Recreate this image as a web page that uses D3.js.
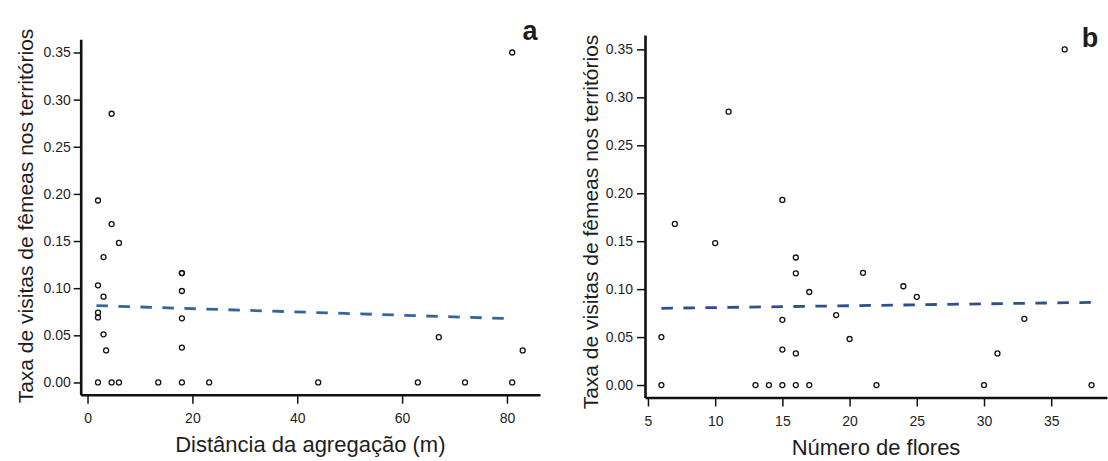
<!DOCTYPE html>
<html>
<head>
<meta charset="utf-8">
<script src="https://cdn.jsdelivr.net/npm/d3@7"></script>
<style>
  html, body { margin: 0; padding: 0; background: #fff; }
  svg { display: block; }
  text { font-family: "Liberation Sans", Arial, sans-serif; fill: #1e1e1e; }
</style>
</head>
<body>
<svg id="chart" width="1108" height="461"></svg>
<script>
// ---------- DATA ----------
// Panel a: distance from aggregation (m) vs female visit rate
const distA = [81, 4.6, 2.0, 4.6, 6.0, 3.05, 18, 18, 2.0, 18, 3.05, 2.0, 2.0, 18, 3.05, 67, 18, 3.55, 83,
               2.0, 4.6, 6.0, 13.5, 18, 23.2, 44, 63, 72, 81];
const rateA = [0.350, 0.285, 0.193, 0.168, 0.148, 0.133, 0.116, 0.116, 0.103, 0.097, 0.091, 0.074, 0.069, 0.068, 0.051, 0.048, 0.037, 0.034, 0.034,
               0, 0, 0, 0, 0, 0, 0, 0, 0, 0];
const trendAx = [1.7, 80.6];
const trendAy = [0.0815, 0.0677];

// Panel b: number of flowers vs female visit rate
const flowersB = [36, 11, 15, 7, 10, 16, 16, 21, 24, 17, 25, 19, 33, 15, 6, 20, 15, 16, 31,
                  6, 13, 14, 15, 16, 17, 22, 30, 38];
const rateB = [0.350, 0.285, 0.193, 0.168, 0.148, 0.133, 0.1165, 0.117, 0.103, 0.097, 0.092, 0.073, 0.069, 0.068, 0.050, 0.048, 0.037, 0.033, 0.033,
               0, 0, 0, 0, 0, 0, 0, 0, 0];
const trendBx = [6.0, 38.1];
const trendBy = [0.080, 0.0862];

const yTicks = [0, 0.05, 0.10, 0.15, 0.20, 0.25, 0.30, 0.35];
const xTicksA = [0, 20, 40, 60, 80];
const xTicksB = [5, 10, 15, 20, 25, 30, 35];

const yTitle = "Taxa de visitas de fêmeas nos territórios";
const xTitleA = "Distância da agregação (m)";
const xTitleB = "Número de flores";
const labelA = "a", labelB = "b";

// ---------- DRAW ----------
const svg = d3.select("#chart");

function panel(cfg) {
  const x = d3.scaleLinear().domain(cfg.xDomain).range(cfg.xRange);
  const y = d3.scaleLinear().domain(cfg.yDomain).range(cfg.yRange);
  const g = svg.append("g");

  // y axis
  const ya = g.append("g")
    .attr("transform", `translate(${cfg.xRange[0]},0)`)
    .call(d3.axisLeft(y).tickValues(yTicks).tickFormat(d3.format(".2f"))
      .tickSize(cfg.yTickSize).tickSizeOuter(0).tickPadding(cfg.yTickPad));
  // x axis
  const xa = g.append("g")
    .attr("transform", `translate(0,${cfg.yRange[0]})`)
    .call(d3.axisBottom(x).tickValues(cfg.xTicks).tickFormat(d3.format("d"))
      .tickSize(cfg.xTickSize).tickSizeOuter(0).tickPadding(cfg.xTickPad));

  [ya, xa].forEach(a => {
    a.select(".domain").attr("stroke", "#111").attr("stroke-width", 2.6);
    a.selectAll(".tick line").attr("stroke", "#111").attr("stroke-width", 1.5);
    a.selectAll(".tick text").attr("font-size", 14).attr("fill", "#1e1e1e")
      .style("font-family", '"Liberation Sans", Arial, sans-serif');
  });

  // trend line
  const line = d3.line().x(d => x(d[0])).y(d => y(d[1]));
  g.append("path")
    .datum(d3.zip(cfg.tx, cfg.ty))
    .attr("d", line)
    .attr("fill", "none")
    .attr("stroke", cfg.trendColor)
    .attr("stroke-width", 2.8)
    .attr("stroke-dasharray", "11.5,10.5");

  // points
  g.selectAll("circle.pt")
    .data(d3.zip(cfg.xs, cfg.ys))
    .join("circle")
    .attr("class", "pt")
    .attr("cx", d => x(d[0]))
    .attr("cy", d => y(d[1]))
    .attr("r", 2.5)
    .attr("fill", "none")
    .attr("stroke", "#111")
    .attr("stroke-width", 1.3);

  // x title
  g.append("text")
    .attr("x", (cfg.xRange[0] + cfg.xRange[1]) / 2)
    .attr("y", cfg.xTitleY)
    .attr("text-anchor", "middle")
    .attr("font-size", 22)
    .text(cfg.xTitle);

  // y title
  g.append("text")
    .attr("transform", `translate(${cfg.yTitleX},${cfg.yTitleCY}) rotate(-90)`)
    .attr("text-anchor", "middle")
    .attr("font-size", 21)
    .text(yTitle);

  // panel label
  g.append("text")
    .attr("x", cfg.labelX)
    .attr("y", cfg.labelY)
    .attr("text-anchor", "middle")
    .attr("font-size", 27)
    .attr("font-weight", "bold")
    .attr("fill", "#111")
    .text(cfg.label);
}

panel({
  xDomain: [-1.3, 86.3], xRange: [80.7, 540],
  yDomain: [-0.013, 0.364], yRange: [394.7, 39.3],
  xTicks: xTicksA, xs: distA, ys: rateA,
  tx: trendAx, ty: trendAy, trendColor: "#35649f",
  yTickSize: 7, yTickPad: 3, xTickSize: 9, xTickPad: 9,
  xTitle: xTitleA, xTitleY: 452,
  yTitleX: 33, yTitleCY: 216,
  label: labelA, labelX: 530, labelY: 40
});

panel({
  xDomain: [4.78, 39.15], xRange: [645, 1107],
  yDomain: [-0.013, 0.365], yRange: [397.5, 35],
  xTicks: xTicksB, xs: flowersB, ys: rateB,
  tx: trendBx, ty: trendBy, trendColor: "#2f4f8f",
  yTickSize: 8, yTickPad: 4, xTickSize: 9, xTickPad: 10,
  xTitle: xTitleB, xTitleY: 455,
  yTitleX: 598, yTitleCY: 222,
  label: labelB, labelX: 1090, labelY: 47
});
</script>
</body>
</html>
